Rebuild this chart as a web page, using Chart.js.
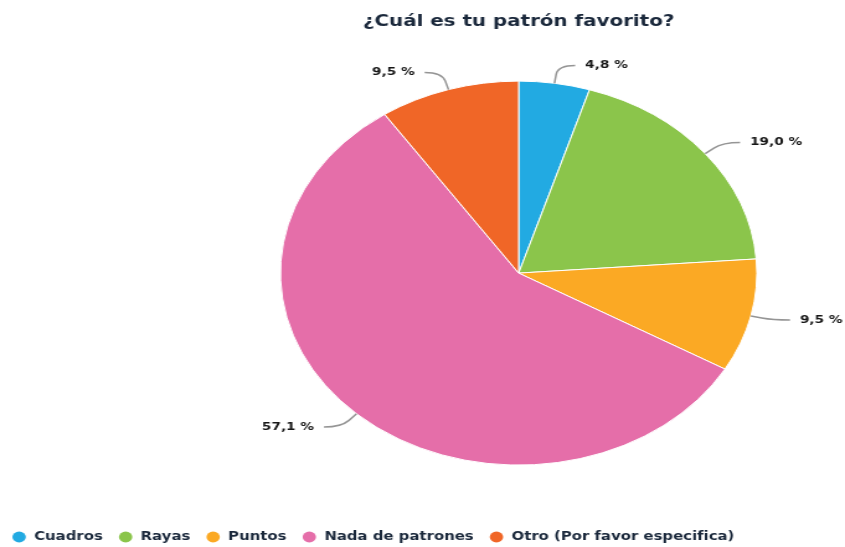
<!DOCTYPE html>
<html lang="es">
<head>
<meta charset="utf-8">
<title>¿Cuál es tu patrón favorito?</title>
<script src="https://cdn.jsdelivr.net/npm/chart.js@4/dist/chart.umd.min.js"></script>
<style>
    html, body { margin: 0; padding: 0; background: #fff; overflow: hidden; }
    /* the chart is drawn narrow and stretched sideways to fill the window */
    #wrap {
        position: absolute; left: 0; top: 0;
        width: 681px; height: 547px;
        transform: scaleX(1.2408); transform-origin: 0 0;
    }
</style>
</head>
<body>
<div id="wrap"><canvas id="patternChart" width="681" height="547"></canvas></div>
<script>
const categories = ["Cuadros", "Rayas", "Puntos", "Nada de patrones", "Otro (Por favor especifica)"];
const shares = [4.8, 19.0, 9.5, 57.1, 9.5];
const sliceColors = ["#22aae2", "#8bc54b", "#fba924", "#e56ea9", "#f06627"];

const titleColor = "#1a283b";

function pctText(v) {
    return v.toFixed(1).replace(".", ",") + " %";
}

// percentage labels outside the pie, joined to each slice by a bent grey line
const leaderLabels = {
    id: "leaderLabels",
    afterDatasetsDraw(chart) {
        const ctx = chart.ctx;
        const meta = chart.getDatasetMeta(0);
        ctx.save();
        ctx.strokeStyle = "#959595";
        ctx.lineWidth = 1.5;
        ctx.fillStyle = "#161616";
        ctx.font = 'bold 11px "DejaVu Sans"';
        ctx.textBaseline = "middle";
        meta.data.forEach((arc, i) => {
            const p = arc.getProps(["x", "y", "startAngle", "endAngle", "outerRadius"], true);
            const mid = (p.startAngle + p.endAngle) / 2;
            const cos = Math.cos(mid), sin = Math.sin(mid);
            const r = p.outerRadius;
            const x0 = p.x + cos * r, y0 = p.y + sin * r;
            const xm = p.x + cos * (r + 9), ym = p.y + sin * (r + 9);
            const x1 = p.x + cos * (r + 18), y1 = p.y + sin * (r + 18);
            const dir = cos >= 0 ? 1 : -1;
            const x2 = x1 + dir * 14;
            ctx.beginPath();
            ctx.moveTo(x0, y0);
            ctx.lineTo(xm, ym);
            ctx.quadraticCurveTo(x1, y1, x2, y1);
            ctx.stroke();
            ctx.textAlign = dir > 0 ? "left" : "right";
            ctx.fillText(pctText(shares[i]), x2 + dir * 8, y1);
        });
        ctx.restore();
    }
};

// legend row along the bottom edge, running from the left side of the canvas
const bottomLegend = {
    id: "bottomLegend",
    afterDraw(chart) {
        const ctx = chart.ctx;
        const y = 537;
        let x = 10;
        ctx.save();
        ctx.font = 'bold 12px "DejaVu Sans"';
        ctx.textBaseline = "middle";
        ctx.textAlign = "left";
        chart.data.labels.forEach((label, i) => {
            ctx.fillStyle = chart.data.datasets[0].backgroundColor[i];
            ctx.beginPath();
            ctx.arc(x + 5.4, y, 5.4, 0, Math.PI * 2);
            ctx.fill();
            ctx.fillStyle = titleColor;
            ctx.fillText(label, x + 17.5, y);
            x += 17.5 + ctx.measureText(label).width + 13;
        });
        ctx.restore();
    }
};

const ctx = document.getElementById("patternChart").getContext("2d");
new Chart(ctx, {
    type: "pie",
    data: {
        labels: categories,
        datasets: [{
            data: shares,
            backgroundColor: sliceColors,
            borderColor: "#ffffff",
            borderWidth: 1,
            hoverOffset: 0
        }]
    },
    options: {
        responsive: false,
        animation: false,
        radius: 192,
        layout: { padding: { left: 155, right: 0, top: 0, bottom: 64 } },
        plugins: {
            legend: { display: false },
            tooltip: { enabled: false },
            title: {
                display: true,
                text: "¿Cuál es tu patrón favorito?",
                color: titleColor,
                font: { family: "DejaVu Sans", size: 16, weight: "bold", lineHeight: 1.2 },
                padding: { top: 12, bottom: 32 }
            }
        }
    },
    plugins: [leaderLabels, bottomLegend]
});
</script>
</body>
</html>
